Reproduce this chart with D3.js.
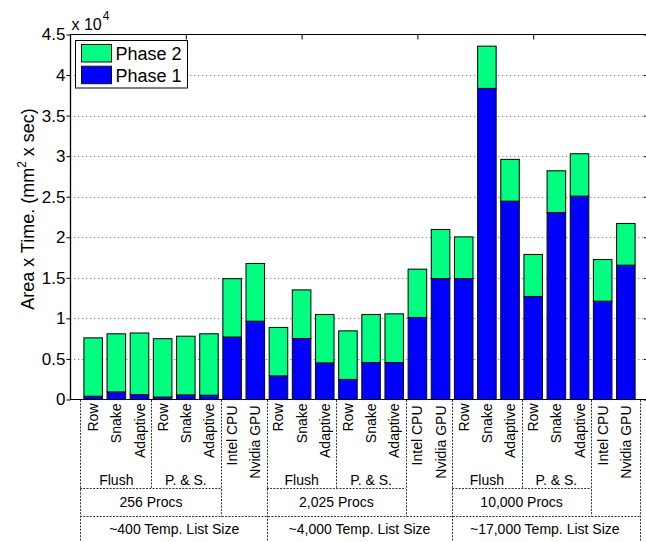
<!DOCTYPE html>
<html>
<head>
<meta charset="utf-8">
<script src="https://cdn.jsdelivr.net/npm/d3@7"></script>
<style>
  body { margin: 0; background: #fff; }
  svg { display: block; font-family: "Liberation Sans", Arial, Helvetica, sans-serif; }
</style>
</head>
<body>
<script>
// Bar categories, left to right
const categories = [
  "Row", "Snake", "Adaptive", "Row", "Snake", "Adaptive", "Intel CPU", "Nvidia GPU",
  "Row", "Snake", "Adaptive", "Row", "Snake", "Adaptive", "Intel CPU", "Nvidia GPU",
  "Row", "Snake", "Adaptive", "Row", "Snake", "Adaptive", "Intel CPU", "Nvidia GPU"
];

// Area x Time (mm^2 x sec) per phase
const phase1 = [
  400, 940, 600, 300, 570, 530, 7700, 9650,
  2910, 7520, 4510, 2470, 4560, 4560, 10110, 14900,
  14900, 38350, 24450, 12700, 23050, 25070, 12120, 16560
];
const phase2 = [
  7200, 7160, 7600, 7200, 7230, 7570, 7200, 7120,
  5970, 5990, 5970, 5990, 5920, 6000, 5960, 6060,
  5150, 5210, 5150, 5180, 5150, 5230, 5140, 5140
];
const seriesNames = ["Phase 1", "Phase 2"];

// Axis ticks
const yTicks = [0, 5000, 10000, 15000, 20000, 25000, 30000, 35000, 40000, 45000];
const yTickLabels = ["0", "0.5", "1", "1.5", "2", "2.5", "3", "3.5", "4", "4.5"];
const xTicks = [5, 10, 15, 20];

// Grouping rows beneath the bars (spans are 1-based bar indices)
const methodGroups = ["Flush", "P. & S.", "Flush", "P. & S.", "Flush", "P. & S."];
const methodSpans = [[1, 3], [4, 6], [9, 11], [12, 14], [17, 19], [20, 22]];
const procGroups = ["256 Procs", "2,025 Procs", "10,000 Procs"];
const procSpans = [[1, 6], [9, 14], [17, 22]];
const sizeGroups = ["~400 Temp. List Size", "~4,000 Temp. List Size", "~17,000 Temp. List Size"];
const sizeSpans = [[1, 8], [9, 16], [17, 24]];

const W = 646, H = 542;
const svg = d3.select("body").append("svg").attr("width", W).attr("height", H);

const x = d3.scaleLinear().domain([0, 25]).range([70, 649]);
const y = d3.scaleLinear().domain([0, 45000]).range([399.5, 34.5]);
const color = d3.scaleOrdinal().domain(seriesNames).range(["#0000ff", "#00ff80"]);
const barW = x(0.8) - x(0);

// Horizontal dotted grid
svg.append("g").selectAll("line")
  .data(yTicks.filter(t => t > 0 && t < 45000))
  .join("line")
  .attr("x1", x(0)).attr("x2", x(25))
  .attr("y1", d => Math.round(y(d)) + 0.5).attr("y2", d => Math.round(y(d)) + 0.5)
  .attr("stroke", "#888").attr("stroke-width", 1).attr("stroke-dasharray", "1.3,2.7");

// Stacked bars
const rows = categories.map((c, i) => ({ idx: i + 1, "Phase 1": phase1[i], "Phase 2": phase2[i] }));
const stacked = d3.stack().keys(seriesNames)(rows);
svg.append("g").selectAll("g")
  .data(stacked)
  .join("g")
  .attr("fill", d => color(d.key))
  .selectAll("rect")
  .data(d => d)
  .join("rect")
  .attr("x", d => x(d.data.idx) - barW / 2)
  .attr("width", barW)
  .attr("y", d => y(d[1]))
  .attr("height", d => y(d[0]) - y(d[1]))
  .attr("stroke", "#111").attr("stroke-width", 1.1);

// Left axis with outward ticks
const yAxis = svg.append("g").attr("transform", "translate(70.5,0)")
  .call(d3.axisLeft(y).tickValues(yTicks).tickFormat((d, i) => yTickLabels[i]).tickSize(4).tickPadding(1));
yAxis.select(".domain").remove();
yAxis.selectAll("text").attr("font-size", 17).attr("fill", "#000").attr("font-family", null);
yAxis.selectAll("line").attr("stroke", "#000");

// Right axis ticks (pointing inward)
const rAxis = svg.append("g").attr("transform", "translate(649,0)")
  .call(d3.axisRight(y).tickValues(yTicks).tickFormat("").tickSize(-5));
rAxis.select(".domain").remove();

// Top axis ticks (pointing inward)
const tAxis = svg.append("g").attr("transform", "translate(0,34.5)")
  .call(d3.axisTop(x).tickValues(xTicks).tickFormat("").tickSize(-5));
tAxis.select(".domain").remove();

// Plot frame
svg.append("line").attr("x1", 70.5).attr("x2", 70.5).attr("y1", 34).attr("y2", 400)
  .attr("stroke", "#000").attr("stroke-width", 1.3);
svg.append("line").attr("x1", 70).attr("x2", 649).attr("y1", 34.5).attr("y2", 34.5)
  .attr("stroke", "#000").attr("stroke-width", 1.2);
svg.append("line").attr("x1", 70).attr("x2", 649).attr("y1", 399.5).attr("y2", 399.5)
  .attr("stroke", "#000").attr("stroke-width", 1.2);

// Exponent label
const expo = svg.append("text").attr("x", 71.5).attr("y", 29.5).attr("font-size", 16).attr("fill", "#000");
expo.append("tspan").text("x 10");
expo.append("tspan").attr("font-size", 12).attr("dy", -9.5).attr("dx", 1).text("4");

// Y axis title
const yl = svg.append("text")
  .attr("transform", "translate(34,209) rotate(-90)")
  .attr("text-anchor", "middle").attr("font-size", 18).attr("fill", "#000");
yl.append("tspan").text("Area x Time. (mm");
yl.append("tspan").attr("font-size", 12).attr("dy", -8).text("2");
yl.append("tspan").attr("dy", 8).text(" x sec)");

// Legend
const legend = svg.append("g");
legend.append("rect").attr("x", 75.5).attr("y", 40.5).attr("width", 112).attr("height", 47.5)
  .attr("fill", "#fff").attr("stroke", "#000").attr("stroke-width", 1);
const legendItems = seriesNames.slice().reverse();
legendItems.forEach((name, i) => {
  const top = 44.5 + i * 21.7;
  legend.append("rect").attr("x", 81.5).attr("y", top).attr("width", 30).attr("height", 17.5)
    .attr("fill", color(name)).attr("stroke", "#111").attr("stroke-width", 1);
  legend.append("text").attr("x", 115.5).attr("y", top + 15.5)
    .attr("font-size", 18).attr("fill", "#000").text(name);
});

// Category table below the axis
const table = svg.append("g");
const dash = sel => sel.attr("stroke", "#333").attr("stroke-width", 1).attr("stroke-dasharray", "2,1.3");
const rowMethodY = 488.5, rowProcY = 516.5;
const leftEdge = x(0.43), rightEdge = x(24.63);

// vertical separators
const vlines = [];
vlines.push([leftEdge, H], [rightEdge, H]);
sizeSpans.slice(1).forEach(s => vlines.push([x(s[0] - 0.5), H]));
procSpans.forEach(s => vlines.push([x(s[1] + 0.5), rowProcY]));
methodSpans.filter((s, i) => i % 2 === 1).forEach(s => vlines.push([x(s[0] - 0.5), rowMethodY]));
table.selectAll("line.v").data(vlines).join("line").attr("class", "v")
  .attr("x1", d => Math.round(d[0]) + 0.5).attr("x2", d => Math.round(d[0]) + 0.5)
  .attr("y1", 400).attr("y2", d => d[1]).call(dash);

// horizontal separators
table.selectAll("line.hm").data(procSpans).join("line").attr("class", "hm")
  .attr("x1", (d, i) => i === 0 ? leftEdge : x(d[0] - 0.5)).attr("x2", d => x(d[1] + 0.5))
  .attr("y1", rowMethodY).attr("y2", rowMethodY).call(dash);
table.append("line").attr("x1", leftEdge).attr("x2", rightEdge)
  .attr("y1", rowProcY).attr("y2", rowProcY).call(dash);

// rotated category labels
table.selectAll("text.cat").data(categories).join("text").attr("class", "cat")
  .attr("transform", (d, i) => {
    const top = (d === "Intel CPU" || d === "Nvidia GPU") ? 405.5 : 403.5;
    return `translate(${x(i + 1)},${top}) rotate(-90)`;
  })
  .attr("dy", "0.36em").attr("text-anchor", "end").attr("font-size", 14).attr("fill", "#000")
  .text(d => d);

// group labels
const groupRow = (names, spans, baseline) => {
  table.selectAll(null).data(names).join("text")
    .attr("x", (d, i) => x((spans[i][0] + spans[i][1]) / 2))
    .attr("y", baseline)
    .attr("text-anchor", "middle").attr("font-size", 14).attr("fill", "#000")
    .text(d => d);
};
groupRow(methodGroups, methodSpans, 485);
groupRow(procGroups, procSpans, 506.5);
groupRow(sizeGroups, sizeSpans, 533.5);
</script>
</body>
</html>
